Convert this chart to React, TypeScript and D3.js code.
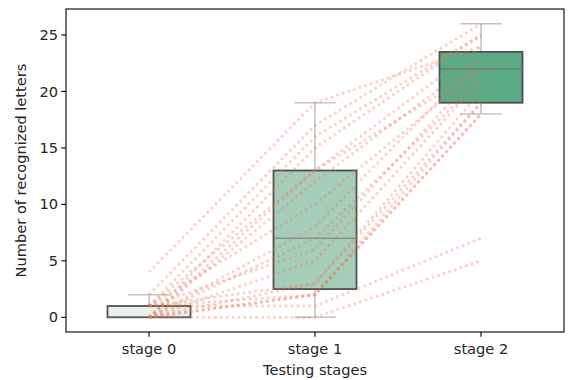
import React, { useEffect, useRef } from "react"
import * as d3 from "d3"

const stages = ["stage 0", "stage 1", "stage 2"]
// recognized letters per subject, one array per stage (same subject order)
const stage0 = [4, 2, 1, 0, 1, 0, 0, 1, 0, 0, 1, 0, 1, 0, 0, 1, 0, 1, 0]
const stage1 = [19, 17, 16, 15, 13, 13, 12, 10, 8, 7, 6, 5, 3, 3, 2, 2, 2, 1, 0]
const stage2 = [24, 26, 25, 25, 22, 24, 23, 22, 23, 21, 22, 21, 20, 19, 19, 18, 18, 7, 5]
const boxColors = ["#e9f0ec", "#a6cdba", "#5bab86"]
const yTicks = [0, 5, 10, 15, 20, 25]

const W = 568
const H = 380

function boxStats(values: number[]) {
    const s = values.slice().sort(d3.ascending)
    const q1 = d3.quantile(s, 0.25) as number
    const med = d3.quantile(s, 0.5) as number
    const q3 = d3.quantile(s, 0.75) as number
    const iqr = q3 - q1
    const lo = d3.min(s.filter(v => v >= q1 - 1.5 * iqr)) as number
    const hi = d3.max(s.filter(v => v <= q3 + 1.5 * iqr)) as number
    return { q1, med, q3, lo, hi }
}

export default function App() {
    const ref = useRef<SVGSVGElement>(null)

    useEffect(() => {
        const svg = d3.select(ref.current)
        svg.selectAll("*").remove()
        const left = 66, right = 564, top = 9, bottom = 332
        const x = d3.scaleBand().domain(stages).range([left, right])
        const y = d3.scaleLinear().domain([-1.3, 27.3]).range([bottom, top])
        const bw = x.bandwidth()
        const cx = (s: string) => (x(s) as number) + bw / 2
        const font = "DejaVu Sans, sans-serif"
        const fs = 14.6
        const series = [stage0, stage1, stage2]

        // boxes
        const boxes = svg.append("g")
        stages.forEach((st, i) => {
            const b = boxStats(series[i])
            const c = cx(st)
            const g = boxes.append("g")
            g.append("line")
                .attr("x1", c).attr("x2", c)
                .attr("y1", y(b.q3)).attr("y2", y(b.hi))
                .attr("stroke", "#c4c4c4").attr("stroke-width", 1.6)
            g.append("line")
                .attr("x1", c).attr("x2", c)
                .attr("y1", y(b.q1)).attr("y2", y(b.lo))
                .attr("stroke", "#c4c4c4").attr("stroke-width", 1.6)
            g.selectAll(".cap")
                .data([b.lo, b.hi])
                .enter()
                .append("line")
                .attr("x1", c - bw / 8).attr("x2", c + bw / 8)
                .attr("y1", d => y(d)).attr("y2", d => y(d))
                .attr("stroke", "#c4c4c4").attr("stroke-width", 1.6)
            g.append("rect")
                .attr("x", c - bw / 4)
                .attr("width", bw / 2)
                .attr("y", y(b.q3))
                .attr("height", y(b.q1) - y(b.q3))
                .attr("fill", boxColors[i])
                .attr("stroke", "#505050")
                .attr("stroke-width", 1.8)
            g.append("line")
                .attr("x1", c - bw / 4).attr("x2", c + bw / 4)
                .attr("y1", y(b.med)).attr("y2", y(b.med))
                .attr("stroke", "#707070").attr("stroke-opacity", 0.6)
                .attr("stroke-width", 1.6)
        })

        // subject lines
        const lineData = stage0.map((v, i) => [v, stage1[i], stage2[i]])
        const line = d3.line<number>()
            .x((d, i) => cx(stages[i]))
            .y(d => y(d))
        svg.append("g")
            .selectAll("path")
            .data(lineData)
            .enter()
            .append("path")
            .attr("d", d => line(d))
            .attr("fill", "none")
            .attr("stroke", "#e8795a")
            .attr("stroke-opacity", 0.32)
            .attr("stroke-width", 2.8)
            .attr("stroke-dasharray", "2.8,3.1")

        // frame
        svg.append("rect")
            .attr("x", left).attr("y", top)
            .attr("width", right - left).attr("height", bottom - top)
            .attr("fill", "none").attr("stroke", "#000").attr("stroke-width", 1.1)

        // y axis
        const ya = svg.append("g")
        ya.selectAll("line")
            .data(yTicks)
            .enter()
            .append("line")
            .attr("x1", left - 4.7).attr("x2", left)
            .attr("y1", d => y(d)).attr("y2", d => y(d))
            .attr("stroke", "#000").attr("stroke-width", 1.1)
        ya.selectAll("text")
            .data(yTicks)
            .enter()
            .append("text")
            .attr("x", left - 8)
            .attr("y", d => y(d))
            .attr("dy", "0.35em")
            .attr("text-anchor", "end")
            .attr("font-family", font)
            .attr("font-size", fs)
            .attr("fill", "#262626")
            .text(d => d)

        // x axis
        const xa = svg.append("g")
        xa.selectAll("line")
            .data(stages)
            .enter()
            .append("line")
            .attr("x1", d => cx(d)).attr("x2", d => cx(d))
            .attr("y1", bottom).attr("y2", bottom + 4.7)
            .attr("stroke", "#000").attr("stroke-width", 1.1)
        xa.selectAll("text")
            .data(stages)
            .enter()
            .append("text")
            .attr("x", d => cx(d))
            .attr("y", bottom + 22)
            .attr("text-anchor", "middle")
            .attr("font-family", font)
            .attr("font-size", fs)
            .attr("fill", "#262626")
            .text(d => d)

        svg.append("text")
            .attr("x", (left + right) / 2)
            .attr("y", 375)
            .attr("text-anchor", "middle")
            .attr("font-family", font)
            .attr("font-size", fs)
            .attr("fill", "#262626")
            .text("Testing stages")
        svg.append("text")
            .attr("transform", `translate(26,${(top + bottom) / 2}) rotate(-90)`)
            .attr("text-anchor", "middle")
            .attr("font-family", font)
            .attr("font-size", fs)
            .attr("fill", "#262626")
            .text("Number of recognized letters")
    }, [])

    return (
        <svg
            ref={ref}
            width={W}
            height={H}
            style={{ position: "absolute", left: 0, top: 0, background: "#fff" }}
        />
    )
}
